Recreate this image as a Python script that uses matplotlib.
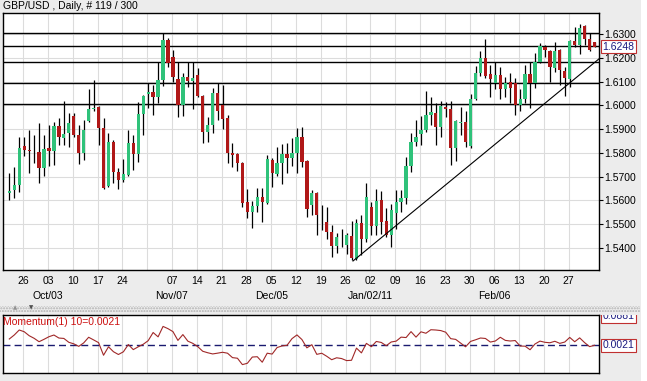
import matplotlib
matplotlib.use("Agg")
import matplotlib.pyplot as plt
from matplotlib.patches import Rectangle
from matplotlib.transforms import Bbox
import numpy as np

plt.rcParams["font.family"] = ["Liberation Sans", "DejaVu Sans"]

# daily GBP/USD bars
opens = [1.5632, 1.5643, 1.5664, 1.5829, 1.5810, 1.5810, 1.5804, 1.5736, 1.5820, 1.5808,
         1.5913, 1.5863, 1.5884, 1.5955, 1.5875, 1.5799, 1.5934, 1.5987, 1.5993, 1.5905,
         1.5660, 1.5846, 1.5719, 1.5686, 1.5707, 1.5842, 1.5795, 1.5964, 1.6048, 1.6057,
         1.6036, 1.6107, 1.6276, 1.6204, 1.6111, 1.6002, 1.6120, 1.6103, 1.6128, 1.6040,
         1.5888, 1.5917, 1.6052, 1.6002, 1.5947, 1.5799, 1.5795, 1.5757, 1.5593, 1.5551,
         1.5576, 1.5614, 1.5589, 1.5770, 1.5711, 1.5757, 1.5795, 1.5778, 1.5799, 1.5867,
         1.5766, 1.5580, 1.5631, 1.5513, 1.5509, 1.5467, 1.5407, 1.5445, 1.5411, 1.5450,
         1.5352, 1.5504, 1.5437, 1.5572, 1.5492, 1.5601, 1.5513, 1.5454, 1.5547, 1.5593,
         1.5610, 1.5745, 1.5846, 1.5880, 1.5896, 1.5960, 1.5968, 1.5909, 1.5993, 1.5985,
         1.5820, 1.5928, 1.5930, 1.5829, 1.6027, 1.6137, 1.6200, 1.6133, 1.6095, 1.6128,
         1.6069, 1.6099, 1.6095, 1.6002, 1.6027, 1.6133, 1.6095, 1.6183, 1.6246, 1.6230,
         1.6158, 1.6234, 1.6145, 1.6111, 1.6272, 1.6255, 1.6335, 1.6280, 1.6268]
highs = [1.5715, 1.5740, 1.5867, 1.5867, 1.5896, 1.5875, 1.5926, 1.5875, 1.5917, 1.5930,
         1.5947, 1.6019, 1.5968, 1.5968, 1.5917, 1.5939, 1.6069, 1.6107, 1.5998, 1.5947,
         1.5884, 1.5854, 1.5736, 1.5774, 1.5896, 1.5875, 1.6014, 1.6044, 1.6095, 1.6086,
         1.6183, 1.6305, 1.6284, 1.6234, 1.6183, 1.6137, 1.6183, 1.6183, 1.6158, 1.6044,
         1.5951, 1.6073, 1.6095, 1.6086, 1.5960, 1.5842, 1.5799, 1.5761, 1.5648, 1.5597,
         1.5652, 1.5652, 1.5791, 1.5778, 1.5825, 1.5837, 1.5842, 1.5863, 1.5905, 1.5909,
         1.5770, 1.5643, 1.5635, 1.5580, 1.5572, 1.5496, 1.5462, 1.5479, 1.5462, 1.5513,
         1.5521, 1.5538, 1.5673, 1.5593, 1.5648, 1.5639, 1.5568, 1.5584, 1.5643, 1.5643,
         1.5782, 1.5884, 1.5939, 1.5955, 1.6061, 1.6035, 1.6010, 1.6019, 1.6014, 1.6019,
         1.5939, 1.5993, 1.5977, 1.6048, 1.6166, 1.6230, 1.6280, 1.6171, 1.6183, 1.6162,
         1.6120, 1.6137, 1.6116, 1.6069, 1.6171, 1.6183, 1.6221, 1.6263, 1.6255, 1.6234,
         1.6268, 1.6238, 1.6162, 1.6276, 1.6331, 1.6343, 1.6339, 1.6305, 1.6268]
lows = [1.5601, 1.5610, 1.5635, 1.5787, 1.5715, 1.5757, 1.5673, 1.5702, 1.5745, 1.5749,
        1.5833, 1.5833, 1.5825, 1.5867, 1.5753, 1.5770, 1.5930, 1.5978, 1.5833, 1.5648,
        1.5656, 1.5673, 1.5648, 1.5677, 1.5702, 1.5728, 1.5761, 1.5875, 1.5989, 1.5960,
        1.6010, 1.6082, 1.6162, 1.6099, 1.5951, 1.5955, 1.6078, 1.5985, 1.6036, 1.5842,
        1.5846, 1.5884, 1.5939, 1.5901, 1.5757, 1.5740, 1.5723, 1.5572, 1.5526, 1.5484,
        1.5551, 1.5509, 1.5585, 1.5656, 1.5702, 1.5669, 1.5715, 1.5745, 1.5715, 1.5740,
        1.5530, 1.5538, 1.5454, 1.5475, 1.5437, 1.5361, 1.5378, 1.5403, 1.5373, 1.5348,
        1.5348, 1.5369, 1.5424, 1.5454, 1.5454, 1.5458, 1.5445, 1.5403, 1.5479, 1.5551,
        1.5584, 1.5719, 1.5829, 1.5833, 1.5888, 1.5917, 1.5833, 1.5867, 1.5951, 1.5749,
        1.5766, 1.5875, 1.5825, 1.5820, 1.6023, 1.6124, 1.6116, 1.6036, 1.6069, 1.6027,
        1.6036, 1.6010, 1.5960, 1.5977, 1.6010, 1.5989, 1.6073, 1.6179, 1.6204, 1.6099,
        1.6141, 1.6086, 1.6040, 1.6078, 1.6246, 1.6217, 1.6255, 1.6230, 1.6246]
closes = [1.5640, 1.5664, 1.5820, 1.5812, 1.5808, 1.5807, 1.5736, 1.5816, 1.5808, 1.5913,
          1.5867, 1.5880, 1.5926, 1.5875, 1.5799, 1.5896, 1.5985, 1.5990, 1.5905, 1.5652,
          1.5846, 1.5719, 1.5686, 1.5711, 1.5842, 1.5795, 1.5964, 1.6040, 1.6057, 1.6036,
          1.6107, 1.6276, 1.6179, 1.6120, 1.6002, 1.6120, 1.6103, 1.6116, 1.6040, 1.5888,
          1.5917, 1.6052, 1.5977, 1.5943, 1.5799, 1.5791, 1.5757, 1.5589, 1.5551, 1.5576,
          1.5614, 1.5593, 1.5774, 1.5715, 1.5757, 1.5795, 1.5778, 1.5799, 1.5867, 1.5761,
          1.5563, 1.5631, 1.5538, 1.5511, 1.5467, 1.5407, 1.5445, 1.5444, 1.5454, 1.5357,
          1.5504, 1.5437, 1.5614, 1.5492, 1.5597, 1.5509, 1.5454, 1.5559, 1.5593, 1.5610,
          1.5745, 1.5846, 1.5867, 1.5896, 1.5960, 1.5972, 1.5909, 1.5998, 1.5985, 1.5820,
          1.5934, 1.5930, 1.5846, 1.6027, 1.6137, 1.6200, 1.6124, 1.6111, 1.6128, 1.6069,
          1.6095, 1.6073, 1.6002, 1.6027, 1.6133, 1.6095, 1.6183, 1.6251, 1.6234, 1.6162,
          1.6230, 1.6149, 1.6116, 1.6272, 1.6255, 1.6327, 1.6280, 1.6234, 1.6248]

momentum = [0.0200, 0.0313, 0.0455, 0.0407, 0.0294, 0.0220, 0.0123, 0.0191, 0.0265, 0.0313,
            0.0227, 0.0216, 0.0106, 0.0063, -0.0009, 0.0089, 0.0249, 0.0174, 0.0097, -0.0261,
            -0.0021, -0.0161, -0.0240, -0.0164, 0.0043, -0.0101, -0.0021, 0.0050, 0.0152, 0.0384,
            0.0261, 0.0557, 0.0493, 0.0409, 0.0160, 0.0325, 0.0139, 0.0076, -0.0017, -0.0148,
            -0.0190, -0.0224, -0.0202, -0.0177, -0.0203, -0.0329, -0.0346, -0.0527, -0.0489, -0.0312,
            -0.0303, -0.0459, -0.0203, -0.0228, -0.0042, 0.0004, 0.0021, 0.0210, 0.0316, 0.0185,
            -0.0051, 0.0038, -0.0236, -0.0204, -0.0290, -0.0388, -0.0333, -0.0355, -0.0413, -0.0404,
            -0.0059, -0.0194, 0.0076, -0.0019, 0.0130, 0.0102, 0.0009, 0.0115, 0.0139, 0.0253,
            0.0241, 0.0409, 0.0253, 0.0404, 0.0363, 0.0463, 0.0455, 0.0439, 0.0392, 0.0210,
            0.0189, 0.0084, -0.0021, 0.0131, 0.0177, 0.0228, 0.0215, 0.0113, 0.0143, 0.0249,
            0.0161, 0.0143, 0.0156, 0.0000, -0.0004, -0.0105, 0.0059, 0.0140, 0.0106, 0.0093,
            0.0135, 0.0076, 0.0114, 0.0245, 0.0122, 0.0232, 0.0097, -0.0017, 0.0021]

week_labels = ["26", "03", "10", "17", "24", "", "07", "14", "21", "28", "05", "12",
               "19", "26", "02", "09", "16", "23", "30", "06", "13", "20", "27"]
month_labels = ["", "Oct/03", "", "", "", "", "Nov/07", "", "", "", "Dec/05", "",
                "", "", "Jan/02/11", "", "", "", "", "Feb/06", "", "", ""]
price_ticks = [1.54, 1.55, 1.56, 1.57, 1.58, 1.59, 1.60, 1.61, 1.62, 1.63]
hlines = [1.6304, 1.6251, 1.6183, 1.6095, 1.6007]
trend_x = [69.3, 119.1]
trend_y = [1.5344, 1.6200]
last_price = 1.6248
mom_last = 0.0021
mom_top = 0.0881

GREEN = "#2fc27a"
RED = "#b01818"
BG = "#ececec"

n = len(closes)
x = np.arange(n)
o = np.array(opens)
c = np.array(closes)
up = c >= o

fig = plt.figure(figsize=(6.47, 3.81), dpi=100, facecolor=BG)
W, H = 647.0, 381.0
ax = fig.add_axes([3 / W, 1 - 270 / H, 596 / W, 257 / H])
ax2 = fig.add_axes([3 / W, 1 - 373 / H, 596 / W, 58 / H])

week_pos = [2.8 + 5 * k for k in range(len(week_labels))]

# price panel
ax.set_facecolor("white")
ax.set_xlim(-1.27, 118.9)
ax.set_ylim(1.5306, 1.6390)
for p in price_ticks:
    ax.axhline(p, color="#dcdcdc", lw=0.8, zorder=0)
for wp in week_pos:
    ax.axvline(wp, color="#dcdcdc", lw=0.8, zorder=0)
for lv in hlines:
    ax.axhline(lv, color="black", lw=1.0, zorder=1)

ax.vlines(x, lows, highs, color="black", lw=0.9, zorder=2)
body_h = np.maximum(np.abs(c - o), 0.00025)
body_b = np.minimum(o, c)
ax.bar(x[up], body_h[up], bottom=body_b[up], width=0.66, color=GREEN, zorder=3, lw=0)
ax.bar(x[~up], body_h[~up], bottom=body_b[~up], width=0.66, color=RED, zorder=3, lw=0)
ax.plot(trend_x, trend_y, color="black", lw=0.8, zorder=4)

ax.yaxis.tick_right()
ax.set_yticks(price_ticks)
ax.set_yticklabels([f"{p:.4f}" for p in price_ticks])
ax.tick_params(axis="y", direction="out", length=3, width=0.8, pad=1, labelsize=7.5)
ax.set_xticks(week_pos)
ax.set_xticklabels(week_labels)
ax.tick_params(axis="x", length=0, pad=4, labelsize=7.5)
for wp, ml in zip(week_pos, month_labels):
    if ml:
        ax.text(wp, -0.101, ml, transform=ax.get_xaxis_transform(), ha="center",
                va="center", fontsize=7.5)
ax.text(1.006, last_price, f"{last_price:.4f}", transform=ax.get_yaxis_transform(),
        ha="left", va="center", fontsize=7.5, color="#1a1a80",
        bbox=dict(boxstyle="square,pad=0.15", fc="white", ec="#c03030", lw=0.8))
for s in ax.spines.values():
    s.set_color("black")
    s.set_linewidth(1.0)

# momentum panel
ax2.set_facecolor("white")
ax2.set_xlim(-1.27, 118.9)
ax2.set_ylim(-0.0765, mom_top)
for wp in week_pos:
    ax2.axvline(wp, color="#dcdcdc", lw=0.8, zorder=0)
ax2.axhline(mom_last, color="#1a1a70", lw=1.0, ls=(0, (5, 3)), zorder=1)
ax2.plot(x, momentum, color="#a02828", lw=0.8, zorder=2)
ax2.set_xticks([])
ax2.set_yticks([])
ax2.text(0.0, 0.97, f"Momentum(1) 10={mom_last:.4f}", transform=ax2.transAxes,
         ha="left", va="top", fontsize=7.5, color="#cc1010")
# the top value box is half hidden under the splitter strip, as in the original
clip = Bbox.from_extents(590, 0, 647, H - 315)
for val, dy in ((mom_top, -0.0035), (mom_last, 0.0)):
    t = ax2.text(1.006, val + dy, f"{val:.4f}", transform=ax2.get_yaxis_transform(),
                 ha="left", va="center", fontsize=7.5, color="#1a1a80",
                 bbox=dict(boxstyle="square,pad=0.15", fc="white", ec="#c03030", lw=0.8))
    t.set_clip_on(True)
    t.set_clip_box(clip)
for s in ax2.spines.values():
    s.set_color("black")
    s.set_linewidth(1.0)

# header and splitter strip
fig.text(3 / W, 1 - 6 / H, "GBP/USD , Daily, # 119 / 300", ha="left", va="center",
         fontsize=7.5)
fig.patches.append(Rectangle((0, 1 - 312 / H), 640 / W, 6 / H, transform=fig.transFigure,
                             fill=False, hatch="......", ec="#b0b0b0", lw=0))
fig.text(15 / W, 1 - 308 / H, "\u25b2", fontsize=4, color="#909090", ha="center",
         va="center", family="DejaVu Sans")
fig.text(31 / W, 1 - 308 / H, "\u25bc", fontsize=4, color="#505050", ha="center",
         va="center", family="DejaVu Sans")
fig.patches.append(Rectangle((641 / W, 0), 6 / W, 1, transform=fig.transFigure,
                             fc="white", ec="none"))

fig.savefig("out.png", dpi=100, facecolor=BG)
